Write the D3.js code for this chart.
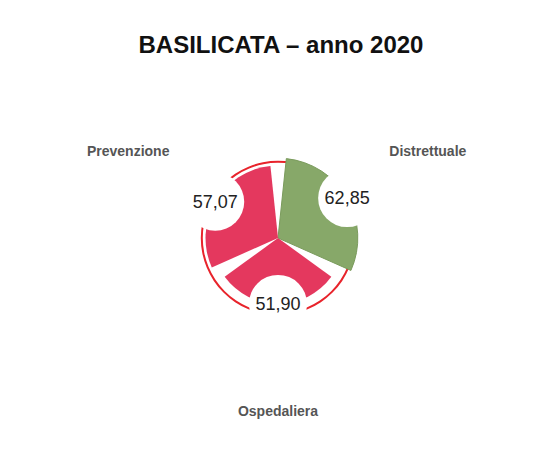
<!DOCTYPE html>
<html>
<head>
<meta charset="utf-8">
<script src="https://cdn.jsdelivr.net/npm/d3@7"></script>
<style>
  body { margin: 0; background: #fff; }
  svg { display: block; font-family: "Liberation Sans", Arial, sans-serif; }
</style>
</head>
<body>
<div id="chart"></div>
<script>
// LEA macro-areas, Basilicata 2020
var categories = ["Distrettuale", "Ospedaliera", "Prevenzione"];
var values = [62.85, 51.90, 57.07];
var threshold = 60;
var title = "BASILICATA \u2013 anno 2020";

var width = 539, height = 457;
var cx = 278, cy = 238;
var padDeg = 6;

var svg = d3.select("#chart").append("svg")
  .attr("width", width)
  .attr("height", height);

svg.append("rect").attr("width", width).attr("height", height).attr("fill", "#fff");

svg.append("text")
  .attr("x", 281).attr("y", 53)
  .attr("text-anchor", "middle")
  .style("font-size", "24px")
  .style("font-weight", "bold")
  .attr("fill", "#111")
  .text(title);

var r = d3.scaleLinear().domain([0, 100]).range([0, 127]);
var step = 2 * Math.PI / categories.length;
var pad = padDeg * Math.PI / 180;

var data = categories.map(function(c, i) {
  return {
    name: c,
    value: values[i],
    start: i * step + pad,
    end: (i + 1) * step - pad,
    mid: (i + 0.5) * step
  };
});

var g = svg.append("g").attr("transform", "translate(" + cx + "," + cy + ")");

// threshold ring (behind sectors)
g.append("path")
  .attr("d", d3.arc()({innerRadius: r(threshold) - 1, outerRadius: r(threshold) + 1,
    startAngle: 0, endAngle: 2 * Math.PI}))
  .attr("fill", "#e8232b");

var arc = d3.arc()
  .innerRadius(0)
  .outerRadius(function(d) { return r(d.value); })
  .startAngle(function(d) { return d.start; })
  .endAngle(function(d) { return d.end; });

g.selectAll("path.sector")
  .data(data)
  .enter()
  .append("path")
  .attr("class", "sector")
  .attr("d", arc)
  .attr("fill", function(d) { return d.value >= threshold ? "#87a869" : "#e4385e"; })
  .attr("stroke", function(d) { return d.value >= threshold ? "#7a9b5c" : "none"; })
  .attr("stroke-width", 1);

// value labels with white round background
var lab = g.selectAll("g.vlabel")
  .data(data)
  .enter()
  .append("g")
  .attr("class", "vlabel")
  .attr("transform", function(d) {
    var rr = r(d.value);
    return "translate(" + (rr * Math.sin(d.mid)) + "," + (-rr * Math.cos(d.mid)) + ")";
  });

lab.append("circle")
  .attr("r", 29)
  .attr("fill", "#fff");

lab.append("text")
  .attr("text-anchor", "middle")
  .attr("dy", "0.35em")
  .style("font-size", "18px")
  .attr("fill", "#222")
  .text(function(d) { return d3.format(".2f")(d.value).replace(".", ","); });

// category labels
g.selectAll("text.cat")
  .data(data)
  .enter()
  .append("text")
  .attr("class", "cat")
  .attr("x", function(d) { return 173 * Math.sin(d.mid); })
  .attr("y", function(d) { return -173 * Math.cos(d.mid); })
  .attr("dy", "0.35em")
  .attr("text-anchor", "middle")
  .style("font-size", "14px")
  .style("font-weight", "bold")
  .attr("fill", "#555")
  .text(function(d) { return d.name; });
</script>
</body>
</html>
